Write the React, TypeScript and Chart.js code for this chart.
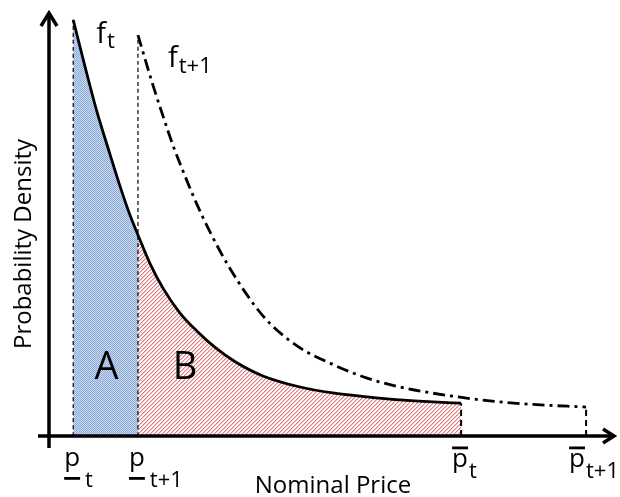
import React, { useEffect, useRef } from 'react';
import { Chart, registerables } from 'chart.js';

Chart.register(...registerables);

// ============================================
// DATA (nominal price 0..100, density 0..100)
// ============================================
const lowerPrices = [4.3, 15.8]; // p_t, p_t+1 (underlined)
const upperPrices = [73.2, 95.4]; // p̄_t, p̄_t+1 (overlined)
const tickSubs = ['t', 't+1', 't', 't+1'];

const ftX = [4.3, 6.4, 8.5, 10.7, 12.8, 14.4, 15.8, 17.9, 20.3, 23.3, 26.3, 29.5, 33.0, 38.0, 44.6, 50.4, 56.5, 62.3, 68.2, 73.2];
const ftY = [97.7, 86.7, 76.2, 66.7, 57.9, 51.8, 47.2, 40.6, 34.6, 28.8, 24.6, 20.8, 17.5, 14.1, 11.5, 10.1, 9.2, 8.5, 8.0, 7.7];

const ft1X = [15.8, 18.5, 20.3, 22.0, 23.8, 26.3, 28.6, 32.2, 38.0, 44.0, 50.4, 56.5, 62.3, 73.0, 80.1, 86.0, 95.4];
const ft1Y = [94.1, 82.2, 74.9, 68.3, 62.2, 54.3, 47.9, 39.2, 28.2, 21.2, 16.8, 13.6, 11.5, 9.1, 8.0, 7.4, 6.8];

const curveSubs = ['t', 't+1'];
const areaLabels = ['A', 'B'];
const xTitle = 'Nominal Price';
const yTitle = 'Probability Density';

const FONT = '"Open Sans", sans-serif';

type Pt = { x: number; y: number };
const toPoints = (xs: number[], ys: number[]): Pt[] => xs.map((x, i) => ({ x, y: ys[i] }));

// ============================================
// PATTERNS
// ============================================
const makeBluePattern = (ctx: CanvasRenderingContext2D) => {
  const c = document.createElement('canvas');
  c.width = 2;
  c.height = 2;
  const g = c.getContext('2d')!;
  g.fillStyle = '#c8d8ee';
  g.fillRect(0, 0, 2, 2);
  g.fillStyle = '#8eaad6';
  g.fillRect(0, 0, 1, 1);
  g.fillRect(1, 1, 1, 1);
  return ctx.createPattern(c, 'repeat');
};

// diagonal "////" hatch, two pixels wide so the pink survives downsampling
const makeRedPattern = (ctx: CanvasRenderingContext2D) => {
  const c = document.createElement('canvas');
  c.width = 4;
  c.height = 4;
  const g = c.getContext('2d')!;
  g.fillStyle = '#ffffff';
  g.fillRect(0, 0, 4, 4);
  for (let i = 0; i < 4; i++) {
    g.fillStyle = '#e27c7c';
    g.fillRect(i, 3 - i, 1, 1);
    g.fillStyle = '#f2c2c2';
    g.fillRect(i, (4 - i) % 4, 1, 1);
  }
  return ctx.createPattern(c, 'repeat');
};

// ============================================
// AXES + TEXT PLUGIN
// ============================================
const diagramPlugin = {
  id: 'diagram',
  afterDraw(chart: any) {
    const { ctx } = chart;
    const xs = chart.scales.x;
    const ys = chart.scales.y;
    const x0 = xs.getPixelForValue(0);
    const y0 = ys.getPixelForValue(0);
    const top = ys.getPixelForValue(100);
    const right = xs.getPixelForValue(100);

    ctx.save();
    ctx.strokeStyle = '#000';
    ctx.fillStyle = '#000';
    ctx.lineWidth = 3.5;
    ctx.lineJoin = 'miter';

    // axes
    ctx.beginPath();
    ctx.moveTo(x0, y0 + 12);
    ctx.lineTo(x0, top + 3);
    ctx.moveTo(x0 - 11, y0);
    ctx.lineTo(right + 1, y0);
    ctx.stroke();

    // arrowheads
    ctx.beginPath();
    ctx.moveTo(x0 - 8, top + 16);
    ctx.lineTo(x0, top + 3);
    ctx.lineTo(x0 + 8, top + 16);
    ctx.moveTo(right - 9, y0 - 7);
    ctx.lineTo(right + 2, y0);
    ctx.lineTo(right - 9, y0 + 7);
    ctx.stroke();

    ctx.textAlign = 'left';
    ctx.textBaseline = 'alphabetic';

    // curve labels f_t, f_t+1
    const starts = [
      { px: xs.getPixelForValue(ftX[0]), py: ys.getPixelForValue(ftY[0]), dx: 23, dy: 23, subDy: 5 },
      { px: xs.getPixelForValue(ft1X[0]), py: ys.getPixelForValue(ft1Y[0]), dx: 30, dy: 32, subDy: 6 },
    ];
    starts.forEach((s, i) => {
      ctx.font = `29px ${FONT}`;
      const left = s.px + s.dx;
      const base = s.py + s.dy;
      ctx.fillText('f', left, base);
      const w = ctx.measureText('f').width;
      ctx.font = `22px ${FONT}`;
      ctx.fillText(curveSubs[i], left + w + 1, base + s.subDy);
    });

    // area labels
    ctx.font = `38px ${FONT}`;
    ctx.textAlign = 'center';
    const pA = (xs.getPixelForValue(lowerPrices[0]) + xs.getPixelForValue(lowerPrices[1])) / 2;
    const pB = xs.getPixelForValue(lowerPrices[1]) + 47;
    ctx.fillText(areaLabels[0], pA + 1, y0 - 57);
    ctx.fillText(areaLabels[1], pB, y0 - 57);

    // price tick labels
    ctx.textAlign = 'left';
    const prices = [...lowerPrices, ...upperPrices];
    prices.forEach((p, i) => {
      const px = xs.getPixelForValue(p);
      const under = i < lowerPrices.length;
      ctx.font = `26px ${FONT}`;
      const pw = ctx.measureText('p').width;
      ctx.font = `22px ${FONT}`;
      const sw = ctx.measureText(tickSubs[i]).width;
      const gap = under ? 5 : 1;
      let left = px - 9;
      const total = pw + gap + sw;
      if (left + total > chart.width - 1) left = chart.width - 1 - total;

      ctx.font = `26px ${FONT}`;
      ctx.fillText('p', left, y0 + (under ? 30 : 31));
      ctx.fillRect(left, y0 + (under ? 41 : 10.5), pw, 2.8);
      ctx.font = `22px ${FONT}`;
      ctx.fillText(tickSubs[i], left + pw + gap, y0 + (under ? 51 : 42));
    });

    // axis titles
    ctx.font = `24px ${FONT}`;
    ctx.textAlign = 'center';
    ctx.fillText(xTitle, 333, y0 + 57);
    ctx.save();
    ctx.translate(24, 244);
    ctx.rotate(-Math.PI / 2);
    ctx.textBaseline = 'middle';
    ctx.fillText(yTitle, 0, 0);
    ctx.restore();

    ctx.restore();
  },
};

// ============================================
// CHART
// ============================================
const DensityChart: React.FC = () => {
  const canvasRef = useRef<HTMLCanvasElement>(null);
  const chartRef = useRef<Chart | null>(null);

  useEffect(() => {
    const canvas = canvasRef.current;
    if (!canvas) return;
    const ctx = canvas.getContext('2d');
    if (!ctx) return;

    const ft = toPoints(ftX, ftY);
    const ft1 = toPoints(ft1X, ft1Y);
    const areaA = ft.filter((p) => p.x >= lowerPrices[0] && p.x <= lowerPrices[1]);
    const areaB = ft.filter((p) => p.x >= lowerPrices[1] && p.x <= upperPrices[0]);

    const guide = (px: number, h: number) => [
      { x: px, y: 0 },
      { x: px, y: h },
    ];

    const base = {
      pointRadius: 0,
      cubicInterpolationMode: 'monotone' as const,
    };

    chartRef.current = new Chart(ctx, {
      type: 'line',
      data: {
        datasets: [
          { ...base, data: areaA, fill: 'origin', backgroundColor: makeBluePattern(ctx) as any, borderWidth: 0, order: 10 },
          { ...base, data: areaB, fill: 'origin', backgroundColor: makeRedPattern(ctx) as any, borderWidth: 0, order: 10 },
          { ...base, data: guide(lowerPrices[0], ftY[0]), borderColor: '#000', borderWidth: 1.2, borderDash: [4, 3], fill: false, order: 5 },
          { ...base, data: guide(lowerPrices[1], ft1Y[0]), borderColor: '#000', borderWidth: 1.2, borderDash: [4, 3], fill: false, order: 5 },
          { ...base, data: guide(upperPrices[0], ftY[ftY.length - 1]), borderColor: '#000', borderWidth: 2, borderDash: [6, 4], fill: false, order: 5 },
          { ...base, data: guide(upperPrices[1], ft1Y[ft1Y.length - 1]), borderColor: '#000', borderWidth: 2, borderDash: [6, 4], fill: false, order: 5 },
          { ...base, data: ft, borderColor: '#000', borderWidth: 2.8, fill: false, order: 1 },
          { ...base, data: ft1, borderColor: '#000', borderWidth: 2.8, borderDash: [12, 5, 3, 5], fill: false, order: 1 },
        ],
      },
      options: {
        animation: false,
        responsive: true,
        maintainAspectRatio: false,
        events: [],
        layout: { padding: { left: 49, right: 8, top: 10, bottom: 61 } },
        plugins: {
          legend: { display: false },
          tooltip: { enabled: false },
        },
        scales: {
          x: { type: 'linear', min: 0, max: 100, display: false },
          y: { type: 'linear', min: 0, max: 100, display: false },
        },
      },
      plugins: [diagramPlugin],
    });

    return () => {
      chartRef.current?.destroy();
      chartRef.current = null;
    };
  }, []);

  return (
    <div style={{ position: 'absolute', left: 0, top: 0, width: 620, height: 497, background: '#fff' }}>
      <canvas ref={canvasRef}></canvas>
    </div>
  );
};

export default function App() {
  return <DensityChart />;
}
